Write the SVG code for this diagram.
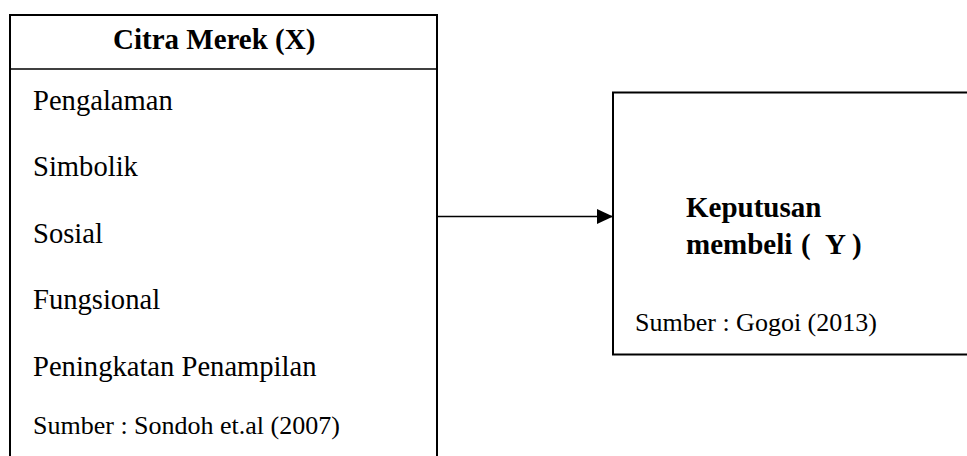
<svg xmlns="http://www.w3.org/2000/svg" width="967" height="456" viewBox="0 0 967 456">
<defs>
<style>
.box{fill:#fff;stroke:#000;stroke-width:2}
.t{font-family:"Liberation Serif","Times New Roman",serif;fill:#000}
.b{font-weight:bold;font-size:29px}
.r{font-size:28.6px}
.s{font-size:26px}
.conn{stroke:#000;stroke-width:1.6;fill:none}
</style>
<marker id="ah" markerWidth="16" markerHeight="15" refX="16" refY="7.5" orient="auto" markerUnits="userSpaceOnUse">
<path d="M0,0 L16,7.5 L0,15 Z" fill="#000"/>
</marker>
</defs>
<rect width="967" height="456" fill="#fff"/>
<g id="citra-merek">
<rect class="box" x="10" y="15" width="427" height="460"/>
<line x1="10" y1="69" x2="437" y2="69" stroke="#000" stroke-width="1.6"/>
<text class="t b" x="113" y="49">Citra Merek (X)</text>
<text class="t r" x="33" y="110">Pengalaman</text>
<text class="t r" x="33" y="176">Simbolik</text>
<text class="t r" x="33" y="243">Sosial</text>
<text class="t r" x="33" y="309">Fungsional</text>
<text class="t r" x="33" y="376">Peningkatan Penampilan</text>
<text class="t s" x="33" y="434">Sumber : Sondoh et.al (2007)</text>
</g>
<g id="keputusan">
<rect class="box" x="613" y="92.5" width="370" height="262"/>
<text class="t b" x="686" y="217">Keputusan</text>
<text class="t b" y="254"><tspan x="686">membeli</tspan> <tspan x="801">(</tspan> <tspan x="825">Y</tspan> <tspan x="852">)</tspan></text>
<text class="t s" x="635" y="331">Sumber : Gogoi (2013)</text>
</g>
<g id="connectors">
<line class="conn" x1="437" y1="216.5" x2="613" y2="216.5" marker-end="url(#ah)"/>
</g>
</svg>
